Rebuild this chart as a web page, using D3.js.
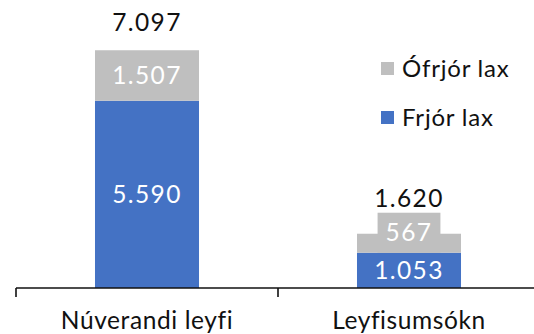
<!DOCTYPE html>
<html>
<head>
<meta charset="utf-8">
<script src="https://cdn.jsdelivr.net/npm/d3@7"></script>
<style>
  html, body { margin: 0; padding: 0; background: #fff; }
  svg { display: block; }
  text { font-family: Lato, "Open Sans", sans-serif; }
</style>
</head>
<body>
<svg id="chart" width="534" height="334"></svg>
<script>
// Laxeldi: leyfi og umsóknir, skipt eftir frjóum og ófrjóum laxi (tonn)
const categories = ["Núverandi leyfi", "Leyfisumsókn"];
const frjorLax = [5590, 1053];
const ofrjorLax = [1507, 567];
const seriesNames = ["Frjór lax", "Ófrjór lax"];
const seriesColors = ["#4472C4", "#BFBFBF"];
const legendOrder = ["Ófrjór lax", "Frjór lax"];

const svg = d3.select("#chart");

const isl = d3.formatLocale({ decimal: ",", thousands: ".", grouping: [3], currency: ["", " kr."] });
const fmt = isl.format(",d");

const rows = categories.map((c, i) => ({ cat: c, "Frjór lax": frjorLax[i], "Ófrjór lax": ofrjorLax[i] }));
const stacked = d3.stack().keys(seriesNames)(rows);

const x = d3.scaleBand().domain(categories).range([16, 540]).paddingInner(0).paddingOuter(0);
const y = d3.scaleLinear().domain([0, 8000]).range([288, 20]);
const barW = x.bandwidth() * 0.397;
const color = d3.scaleOrdinal().domain(seriesNames).range(seriesColors);

const fontSize = 24.5, capH = 17, spacing = "1.4px";

// stacked bars
const layers = svg.append("g").selectAll("g").data(stacked).join("g")
  .attr("fill", d => color(d.key));
layers.selectAll("rect").data(d => d).join("rect")
  .attr("x", d => x(d.data.cat) + x.bandwidth() / 2 - barW / 2)
  .attr("width", barW)
  .attr("y", d => y(d[1]))
  .attr("height", d => y(d[0]) - y(d[1]));

// segment labels; a label too tall for its segment gets a filled box resting on the segment below
const boxH = 40, minFit = 26;
const boxTops = categories.map(() => Infinity);
const labelLayer = svg.append("g");
stacked.forEach(layer => {
  layer.forEach((d, i) => {
    const cx = x(d.data.cat) + x.bandwidth() / 2;
    const top = y(d[1]), bot = y(d[0]);
    const segH = bot - top;
    const boxed = segH < minFit;
    const boxBot = boxed ? bot : (top + bot) / 2 + boxH / 2;
    const boxTop = boxBot - boxH;
    const g = labelLayer.append("g");
    const t = g.append("text")
      .attr("x", cx)
      .attr("y", boxed ? (boxTop + boxBot) / 2 + capH / 2 : (top + bot) / 2 + capH / 2)
      .attr("text-anchor", "middle")
      .attr("font-size", fontSize)
      .attr("letter-spacing", spacing)
      .attr("fill", "#fff")
      .text(fmt(d[1] - d[0]));
    if (boxed) {
      const bw = t.node().getBBox().width + 16;
      g.insert("rect", "text")
        .attr("x", cx - bw / 2)
        .attr("y", boxTop)
        .attr("width", bw)
        .attr("height", boxH)
        .attr("fill", color(layer.key));
    }
    boxTops[i] = Math.min(boxTops[i], boxTop);
  });
});

// totals above each bar
rows.forEach((r, i) => {
  const total = r["Frjór lax"] + r["Ófrjór lax"];
  const base = Math.min(y(total) - 19, boxTops[i] - 6);
  svg.append("text")
    .attr("x", x(r.cat) + x.bandwidth() / 2)
    .attr("y", base)
    .attr("text-anchor", "middle")
    .attr("font-size", fontSize)
    .attr("letter-spacing", spacing)
    .attr("fill", "#111")
    .text(fmt(total));
});

// category axis
const axis = svg.append("g").attr("transform", "translate(0,288)")
  .call(d3.axisBottom(x).tickSize(0).tickFormat(""));
axis.select(".domain").attr("stroke", "#111").attr("stroke-width", 1.6).attr("d", "M16,0H540");
const edges = [16, ...categories.map(c => x(c) + x.bandwidth())];
axis.selectAll(".edge").data(edges).join("line")
  .attr("class", "edge")
  .attr("x1", d => d).attr("x2", d => d)
  .attr("y1", 0).attr("y2", 9)
  .attr("stroke", "#111").attr("stroke-width", 1.6);
axis.selectAll(".cat").data(categories).join("text")
  .attr("class", "cat")
  .attr("x", d => x(d) + x.bandwidth() / 2)
  .attr("y", 40.5)
  .attr("text-anchor", "middle")
  .attr("font-size", fontSize)
  .attr("letter-spacing", "0.6px")
  .attr("fill", "#111")
  .text(d => d);

// legend
const legend = svg.append("g").attr("transform", "translate(381,62)");
legendOrder.forEach((name, i) => {
  const g = legend.append("g").attr("transform", `translate(0,${i * 49})`);
  g.append("rect").attr("width", 13).attr("height", 13).attr("fill", color(name));
  g.append("text").attr("x", 21).attr("y", 15)
    .attr("font-size", 24)
    .attr("letter-spacing", "0.8px")
    .attr("fill", "#111")
    .text(name);
});
</script>
</body>
</html>
